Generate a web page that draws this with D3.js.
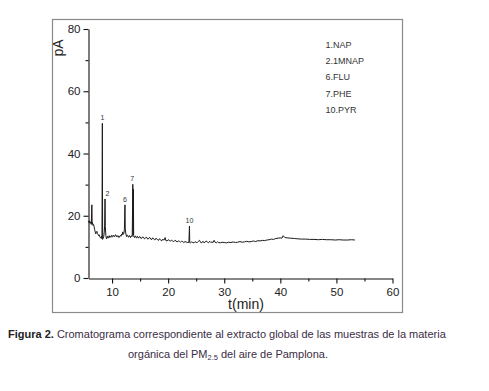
<!DOCTYPE html>
<html>
<head>
<meta charset="utf-8">
<script src="https://cdn.jsdelivr.net/npm/d3@7"></script>
<style>
  html, body { margin: 0; padding: 0; background: #fff; }
  svg { display: block; }
</style>
</head>
<body>
<svg id="chart" width="489" height="391"></svg>
<script>
// ---- data ----
const times = [
  5.8, 5.9, 6.0, 6.1, 6.2, 6.3, 6.4, 6.45, 6.5, 6.6, 6.7, 6.8, 6.9, 7.0, 7.1, 7.2, 7.3, 7.4, 7.5, 7.6,
  7.7, 7.8, 7.9, 8.0, 8.1, 8.2, 8.27, 8.32, 8.4, 8.5, 8.6, 8.68, 8.75, 8.8, 8.9, 9.0, 9.1, 9.2, 9.3, 9.4,
  9.5, 9.6, 9.7, 9.8, 9.9, 10.0, 10.1, 10.2, 10.3, 10.4, 10.5, 10.6, 10.7, 10.8, 10.9, 11.0, 11.1, 11.2, 11.3, 11.4,
  11.5, 11.6, 11.7, 11.8, 11.9, 12.0, 12.1, 12.2, 12.3, 12.35, 12.45, 12.6, 12.7, 12.8, 12.9, 13.0, 13.1, 13.2, 13.3, 13.4,
  13.5, 13.6, 13.7, 13.75, 13.8, 13.85, 13.9, 14.0, 14.1, 14.2, 14.3, 14.4, 14.5, 14.6, 14.7, 14.8, 14.9, 15.0, 15.15, 15.3,
  15.45, 15.6, 15.75, 15.9, 16.05, 16.2, 16.35, 16.5, 16.65, 16.8, 16.95, 17.1, 17.25, 17.4, 17.55, 17.7, 17.85, 18.0, 18.15, 18.3,
  18.45, 18.6, 18.75, 18.9, 19.05, 19.2, 19.35, 19.45, 19.6, 19.8, 20.0, 20.2, 20.4, 20.6, 20.8, 21.0, 21.2, 21.4, 21.6, 21.8,
  22.0, 22.2, 22.4, 22.6, 22.8, 23.0, 23.2, 23.4, 23.6, 23.7, 23.8, 23.85, 24.0, 24.2, 24.4, 24.6, 24.8, 25.0, 25.2, 25.4,
  25.6, 25.8, 26.0, 26.2, 26.4, 26.6, 26.8, 27.0, 27.2, 27.4, 27.6, 27.8, 28.0, 28.2, 28.4, 28.6, 28.8, 29.0, 29.3, 29.6,
  30.0, 30.4, 30.8, 31.2, 31.6, 32.0, 32.4, 32.8, 33.2, 33.6, 34.0, 34.4, 34.8, 35.2, 35.6, 36.0, 36.4, 36.8, 37.2, 37.6,
  38.0, 38.4, 38.8, 39.2, 39.6, 40.0, 40.3, 40.5, 40.8, 41.2, 41.8, 42.5, 43.0, 43.8, 44.5, 45.2, 46.0, 46.8, 47.5, 48.2,
  49.0, 49.8, 50.5, 51.2, 52.0, 52.7, 53.3
];
const pA = [
  18.3, 17.8, 18.4, 17.6, 18.0, 17.2, 23.5, 17.4, 17.8, 16.9, 17.2, 16.5, 15.6, 14.8, 14.2, 14.6, 15.0, 14.3, 14.0, 13.6,
  13.9, 13.3, 13.0, 12.8, 13.4, 12.6, 49.7, 12.4, 12.8, 13.2, 14.5, 17.0, 25.4, 16.5, 13.6, 12.6, 12.9, 13.4, 12.8, 13.1,
  13.6, 13.0, 13.2, 13.5, 13.7, 13.1, 13.3, 13.8, 13.6, 13.2, 13.4, 13.9, 13.8, 13.3, 13.2, 13.6, 13.5, 13.0, 13.1, 13.5,
  13.7, 13.4, 14.1, 13.8, 14.8, 14.0, 14.3, 15.6, 23.5, 16.0, 14.2, 13.3, 13.8, 13.7, 13.2, 13.1, 13.6, 13.5, 13.0, 13.2,
  13.6, 13.4, 30.1, 13.8, 28.5, 13.6, 13.2, 13.0, 13.5, 13.4, 12.9, 12.9, 13.4, 13.3, 12.8, 13.0, 13.3, 13.2, 12.7, 12.8,
  13.2, 13.1, 12.6, 12.7, 13.1, 13.0, 12.5, 12.6, 13.0, 12.9, 12.4, 12.4, 12.9, 12.7, 12.3, 12.3, 12.8, 12.5, 12.2, 12.1,
  12.6, 12.4, 12.0, 12.0, 12.5, 12.2, 12.3, 13.0, 12.0, 11.9, 12.3, 12.1, 11.8, 12.2, 11.9, 11.7, 12.1, 11.9, 11.6, 11.9,
  11.8, 11.5, 11.8, 11.7, 11.4, 11.7, 11.6, 11.4, 11.5, 11.3, 16.7, 11.4, 11.3, 11.6, 11.4, 11.3, 11.7, 11.4, 11.4, 11.8,
  12.1, 11.4, 11.3, 11.8, 11.3, 11.6, 11.9, 11.5, 11.3, 11.8, 11.4, 11.6, 11.4, 12.1, 11.4, 11.3, 11.6, 11.4, 11.3, 11.5,
  11.4, 11.3, 11.5, 11.4, 11.6, 11.4, 11.5, 11.7, 11.5, 11.6, 11.8, 11.6, 11.7, 11.9, 11.7, 12.0, 11.9, 12.1, 12.0, 12.2,
  12.3, 12.5, 12.4, 12.7, 12.8, 12.9, 12.8, 13.6, 13.0, 12.9, 12.8, 12.7, 12.6, 12.5, 12.5, 12.4, 12.4, 12.3, 12.4, 12.3,
  12.3, 12.2, 12.3, 12.2, 12.2, 12.3, 12.2
];
const peakLabels = ["1", "2", "6", "7", "10"];
const peakTimes  = [8.27, 8.75, 12.3, 13.7, 23.8];
const peakValues = [49.7, 25.4, 23.5, 30.1, 16.7];
const legendItems = ["1.NAP", "2.1MNAP", "6.FLU", "7.PHE", "10.PYR"];
const xTicks = [10, 20, 30, 40, 50, 60];
const xMinor = [15, 25, 35, 45, 55];
const yTicks = [0, 20, 40, 60, 80];
const yMinor = [10, 30, 50, 70];

// ---- drawing ----
const svg = d3.select("#chart");
const FONT = "'Liberation Sans', Arial, sans-serif";

// frame
svg.append("rect")
  .attr("x", 52.5).attr("y", 19.5).attr("width", 350).attr("height", 293)
  .attr("fill", "#fff").attr("stroke", "#8a8a8a").attr("stroke-width", 1.2);

const x = d3.scaleLinear().domain([5.8, 60]).range([88.5, 392.5]);
const y = d3.scaleLinear().domain([0, 80]).range([278, 29]);

// axes
svg.append("g").attr("transform", "translate(0,278.5)")
  .call(d3.axisBottom(x).tickValues(xTicks).tickSize(5).tickSizeOuter(0).tickPadding(4));
svg.append("g").attr("transform", "translate(0,278.5)")
  .call(d3.axisBottom(x).tickValues(xMinor).tickSize(3).tickSizeOuter(0).tickFormat(""))
  .select(".domain").remove();
svg.append("g").attr("transform", "translate(88.5,0)")
  .call(d3.axisLeft(y).tickValues(yTicks).tickSize(5).tickSizeOuter(0).tickPadding(3));
svg.append("g").attr("transform", "translate(88.5,0)")
  .call(d3.axisLeft(y).tickValues(yMinor).tickSize(3).tickSizeOuter(0).tickFormat(""))
  .select(".domain").remove();

svg.selectAll(".tick line, .domain").attr("stroke", "#111").attr("stroke-width", 1.1);
svg.selectAll(".tick text").attr("font-family", FONT).attr("font-size", 11.5).attr("fill", "#222");

// axis titles
svg.append("text")
  .attr("transform", "translate(63,48) rotate(-90)")
  .attr("text-anchor", "middle")
  .attr("font-family", FONT).attr("font-size", 14).attr("fill", "#222")
  .text("pA");
svg.append("text")
  .attr("x", 246).attr("y", 309)
  .attr("text-anchor", "middle")
  .attr("font-family", FONT).attr("font-size", 14).attr("fill", "#222")
  .text("t(min)");

// trace
const pts = times.map((t, i) => [t, pA[i]]);
svg.append("path")
  .datum(pts)
  .attr("fill", "none")
  .attr("stroke", "#1a1a1a")
  .attr("stroke-width", 1)
  .attr("stroke-linejoin", "round")
  .attr("d", d3.line().x(d => x(d[0])).y(d => y(d[1])));

// peak labels
const labelDx = [0, 2.5, 0, -0.5, 0];
svg.selectAll(".plabel").data(peakLabels).enter().append("text")
  .attr("class", "plabel")
  .attr("x", (d, i) => x(peakTimes[i]) + labelDx[i])
  .attr("y", (d, i) => y(peakValues[i]) - 3)
  .attr("text-anchor", "middle")
  .attr("font-family", FONT).attr("font-size", 7).attr("fill", "#333")
  .text(d => d);

// legend
svg.selectAll(".leg").data(legendItems).enter().append("text")
  .attr("class", "leg")
  .attr("x", 325.5)
  .attr("y", (d, i) => 47.5 + i * 16.4)
  .attr("font-family", FONT).attr("font-size", 9).attr("fill", "#333")
  .text(d => d);

// caption
const cap1 = svg.append("text")
  .attr("x", 8).attr("y", 338)
  .attr("font-family", FONT).attr("font-size", 11).attr("fill", "#3b2d45");
cap1.append("tspan").attr("font-weight", "bold").attr("fill", "#222").text("Figura 2.");
cap1.append("tspan").text(" Cromatograma correspondiente al extracto global de las muestras de la materia");

const cap2 = svg.append("text")
  .attr("x", 228).attr("y", 357.5)
  .attr("text-anchor", "middle")
  .attr("font-family", FONT).attr("font-size", 11).attr("fill", "#3b2d45");
cap2.append("tspan").text("orgánica del PM");
cap2.append("tspan").attr("font-size", 7.5).attr("dy", 2).text("2.5");
cap2.append("tspan").attr("dy", -2).text(" del aire de Pamplona.");
</script>
</body>
</html>
